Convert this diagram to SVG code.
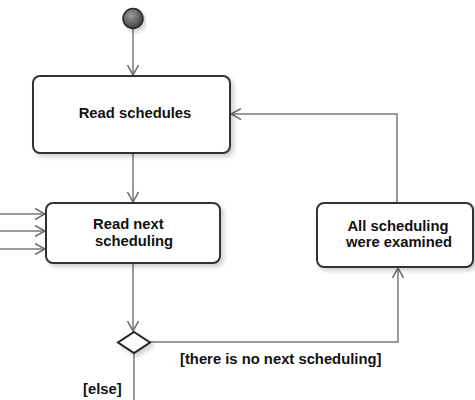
<svg xmlns="http://www.w3.org/2000/svg" width="475" height="400" viewBox="0 0 475 400">
  <style>
    .box { fill: #ffffff; stroke: #333333; stroke-width: 2; filter: url(#shadow); }
    .flow { fill: none; stroke: #7a7a7a; stroke-width: 1.5; }
    .label { font-family: "Liberation Sans", Arial, sans-serif; font-size: 14.8px; font-weight: bold; fill: #111111; }
    .mid { text-anchor: middle; }
  </style>
  <defs>
    <filter id="shadow" x="-10%" y="-10%" width="125%" height="135%">
      <feDropShadow dx="3" dy="3" stdDeviation="2" flood-color="#000000" flood-opacity="0.18"/>
    </filter>
    <radialGradient id="startFill" cx="0.4" cy="0.35" r="0.7">
      <stop offset="0" stop-color="#9a9a9a"/>
      <stop offset="1" stop-color="#3a3a3a"/>
    </radialGradient>
    <marker id="open" viewBox="0 0 12 12" refX="11" refY="6" markerWidth="12" markerHeight="12" markerUnits="userSpaceOnUse" orient="auto">
      <path d="M1,0.5 L11,6 L1,11.5" fill="none" stroke="#6a6a6a" stroke-width="1.5"/>
    </marker>
  </defs>

  <!-- connectors -->
  <g id="connectors">
    <line class="flow" x1="133" y1="29" x2="133" y2="75" marker-end="url(#open)"/>
    <line class="flow" x1="133" y1="154" x2="133" y2="202" marker-end="url(#open)"/>
    <line class="flow" x1="0" y1="214" x2="45" y2="214" marker-end="url(#open)"/>
    <line class="flow" x1="0" y1="231" x2="45" y2="231" marker-end="url(#open)"/>
    <line class="flow" x1="0" y1="249" x2="45" y2="249" marker-end="url(#open)"/>
    <line class="flow" x1="133" y1="264" x2="133" y2="331" marker-end="url(#open)"/>
    <line class="flow" x1="134" y1="353" x2="134" y2="400"/>
    <polyline class="flow" points="150,342 398,342 398,268" marker-end="url(#open)"/>
    <polyline class="flow" points="397,203 397,114 231,114" marker-end="url(#open)"/>
  </g>

  <!-- start node -->
  <g id="start">
    <circle cx="133" cy="18.5" r="10" fill="url(#startFill)" stroke="#2a2a2a" stroke-width="1.5" filter="url(#shadow)"/>
  </g>

  <g id="read-schedules">
    <rect class="box" x="33" y="76" width="197" height="77" rx="7"/>
    <text class="label mid" x="135" y="118">Read schedules</text>
  </g>

  <g id="read-next">
    <rect class="box" x="46" y="203" width="174" height="60" rx="7"/>
    <text class="label" x="93" y="229">Read next</text>
    <text class="label" x="95" y="246">scheduling</text>
  </g>

  <g id="all-examined">
    <rect class="box" x="317" y="203" width="156" height="64" rx="7"/>
    <text class="label mid" x="398" y="231">All scheduling</text>
    <text class="label mid" x="399" y="247">were examined</text>
  </g>

  <g id="decision">
    <polygon points="134,332 150,342.5 134,353 118,342.5" fill="#ffffff" stroke="#222222" stroke-width="2" filter="url(#shadow)"/>
  </g>

  <g id="guards">
    <text class="label" x="180" y="364">[there is no next scheduling]</text>
    <text class="label" x="83" y="394">[else]</text>
  </g>
</svg>
